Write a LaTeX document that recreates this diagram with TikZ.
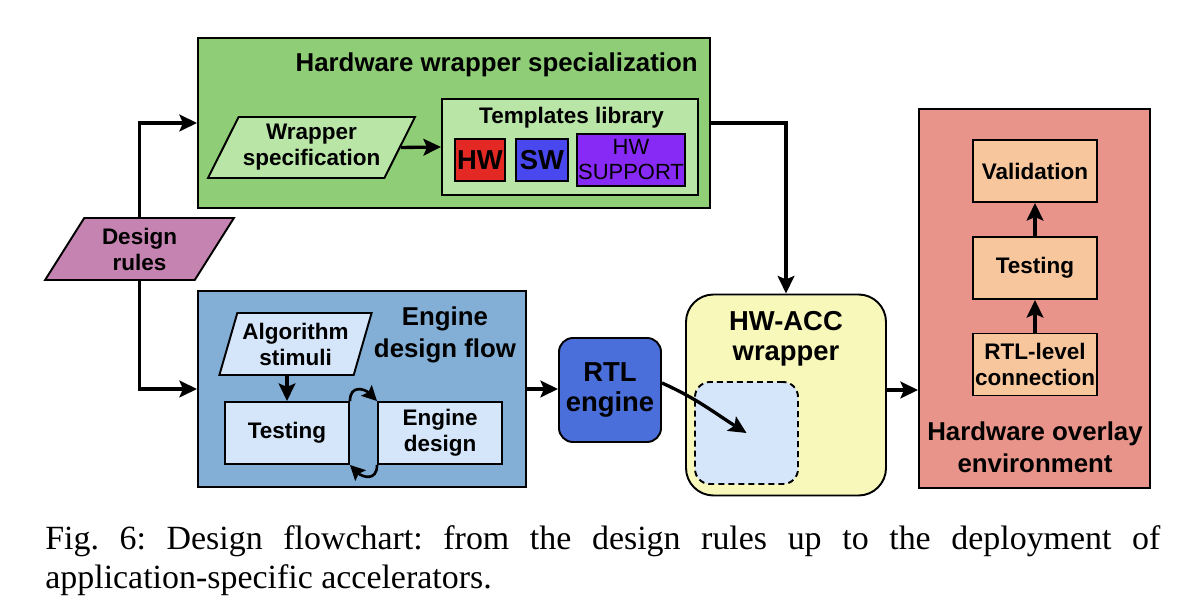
\documentclass[tikz,border=0pt]{standalone}
\usepackage{fontspec}
\setmainfont{Liberation Sans}
\newfontfamily\capfont{Liberation Serif}
\usepackage{tikz}
\usetikzlibrary{positioning, arrows.meta, shapes.geometric, calc}
\definecolor{wrapgreen}{RGB}{143,206,118}
\definecolor{lightgreen}{RGB}{185,229,167}
\definecolor{hwred}{RGB}{228,40,36}
\definecolor{swblue}{RGB}{72,72,238}
\definecolor{suppurple}{RGB}{136,42,245}
\definecolor{rulespink}{RGB}{196,131,176}
\definecolor{flowblue}{RGB}{131,175,214}
\definecolor{paleblue}{RGB}{213,229,250}
\definecolor{rtlblue}{RGB}{74,110,218}
\definecolor{accyellow}{RGB}{248,248,186}
\definecolor{overlayred}{RGB}{232,148,138}
\definecolor{peach}{RGB}{247,198,156}

\begin{document}
\begin{tikzpicture}[
  container/.style={draw, line width=1.1pt, inner sep=0pt},
  block/.style={draw, line width=1.1pt, inner sep=0pt, align=center,
               font=\fontsize{12.8}{14.8}\selectfont\bfseries},
  datanode/.style={block, trapezium, trapezium stretches=true,
               trapezium left angle=58, trapezium right angle=122},
  boxtitle/.style={inner sep=0pt, align=center,
               font=\fontsize{14.7}{18.1}\selectfont\bfseries},
  bigtext/.style={font=\fontsize{15.6}{17.2}\selectfont\bfseries},
  flow/.style={-{Stealth[length=10pt, width=9.5pt, inset=2pt]}, line width=1.9pt},
  loopflow/.style={-{Stealth[length=8.5pt, width=8.5pt, inset=1.5pt]}, line width=1.5pt}
]
  \useasboundingbox (0,0) rectangle (24,12.3);

  %% Hardware wrapper specialization
  \node[container, fill=wrapgreen, minimum width=10.24cm, minimum height=3.4cm] (hwspec) at (9.08,9.84) {};
  \node[boxtitle, anchor=base east] (hwtitle) at (13.96,10.86) {Hardware wrapper specialization};
  \node[container, fill=lightgreen, minimum width=5.12cm, minimum height=1.92cm] (tmpl) at (11.4,9.36) {};
  \node[boxtitle, font=\fontsize{12.8}{14.8}\selectfont\bfseries, anchor=base] (tmpltitle) at (11.43,9.82) {Templates library};
  \node[block, bigtext, fill=hwred, minimum width=1.0cm, minimum height=0.83cm] (hwbox) at (9.6,9.1) {HW};
  \node[block, bigtext, fill=swblue, minimum width=1.04cm, minimum height=0.83cm] (swbox) at (10.84,9.1) {SW};
  \node[block, font=\fontsize{12.5}{14.2}\selectfont, fill=suppurple, minimum width=2.16cm, minimum height=1.04cm] (supbox) at (12.62,9.1) {HW\\SUPPORT};
  \node[datanode, fill=lightgreen, minimum width=4.14cm, minimum height=1.22cm] (wrspec) at (6.23,9.35) {Wrapper\\specification};

  %% Design rules
  \node[datanode, fill=rulespink, minimum width=3.78cm, minimum height=1.24cm] (rules) at (2.79,7.32) {Design\\rules};

  %% Engine design flow
  \node[container, fill=flowblue, minimum width=6.56cm, minimum height=3.92cm] (engflow) at (7.24,4.52) {};
  \node[boxtitle] (engtitle) at (8.9,5.61) {Engine\\design flow};
  \node[datanode, trapezium left angle=69, trapezium right angle=111, fill=paleblue, minimum width=3.06cm, minimum height=1.24cm] (algstim) at (5.91,5.42) {Algorithm\\stimuli};
  \node[block, fill=paleblue, minimum width=2.48cm, minimum height=1.24cm] (testeng) at (5.74,3.64) {Testing};
  \node[block, fill=paleblue, minimum width=2.48cm, minimum height=1.24cm] (engdes) at (8.8,3.64) {Engine\\design};

  %% RTL engine and wrapper
  \node[block, bigtext, rounded corners=0.28cm, fill=rtlblue, minimum width=2.04cm, minimum height=2.08cm] (rtl) at (12.2,4.5) {RTL\\engine};
  \node[container, rounded corners=0.55cm, fill=accyellow, minimum width=4.0cm, minimum height=4.02cm] (wrapper) at (15.72,4.4) {};
  \node[boxtitle, bigtext] (acctitle) at (15.72,5.52) {HW-ACC\\wrapper};
  \node[container, dashed, dash pattern=on 3.4pt off 2.3pt, rounded corners=0.3cm, fill=paleblue, minimum width=2.06cm, minimum height=2.04cm] (slot) at (14.93,3.64) {};

  %% Hardware overlay environment
  \node[container, fill=overlayred, minimum width=4.62cm, minimum height=7.58cm] (overlay) at (20.69,6.33) {};
  \node[boxtitle] (overtitle) at (20.7,3.35) {Hardware overlay\\environment};
  \node[block, fill=peach, minimum width=2.48cm, minimum height=1.24cm] (valid) at (20.7,8.88) {Validation};
  \node[block, fill=peach, minimum width=2.48cm, minimum height=1.24cm] (testhw) at (20.7,6.94) {Testing};
  \node[block, fill=peach, minimum width=2.48cm, minimum height=1.24cm] (rtlconn) at (20.7,5.01) {RTL-level\\connection};

  %% Connectors
  \draw[flow] (rules.north -| rules.center) |- (hwspec.west);
  \draw[flow] (rules.south -| rules.center) |- (engflow.west);
  \draw[flow] (wrspec.east) -- (tmpl.west);
  \draw[flow] (hwspec.east) -| (wrapper.north);
  \draw[flow] (algstim.south -| testeng.north) -- (testeng.north);
  \draw[loopflow] (testeng.north east) to[out=90, in=135, looseness=1.6] (engdes.north west);
  \draw[loopflow] (engdes.south west) to[out=-90, in=-45, looseness=1.6] (testeng.south east);
  \draw[flow] (engflow.east) -- (engflow.east -| rtl.west);
  \draw[flow] ([yshift=0.14cm]rtl.east) to[out=-24, in=148] (slot.center);
  \draw[flow] ([yshift=0.1cm]wrapper.east) -- ([yshift=0.1cm]wrapper.east -| overlay.west);
  \draw[flow] (rtlconn) -- (testhw);
  \draw[flow] (testhw) -- (valid);

  %% Caption
  \node[anchor=north west, inner sep=0pt, align=left, font=\capfont\fontsize{19.3}{22.1}\selectfont\frenchspacing] (caption) at (0.9,1.8)
    {\makebox[22.3cm][s]{Fig. 6: Design flowchart: from the design rules up to the deployment of}\\application-specific accelerators.};
\end{tikzpicture}
\end{document}
